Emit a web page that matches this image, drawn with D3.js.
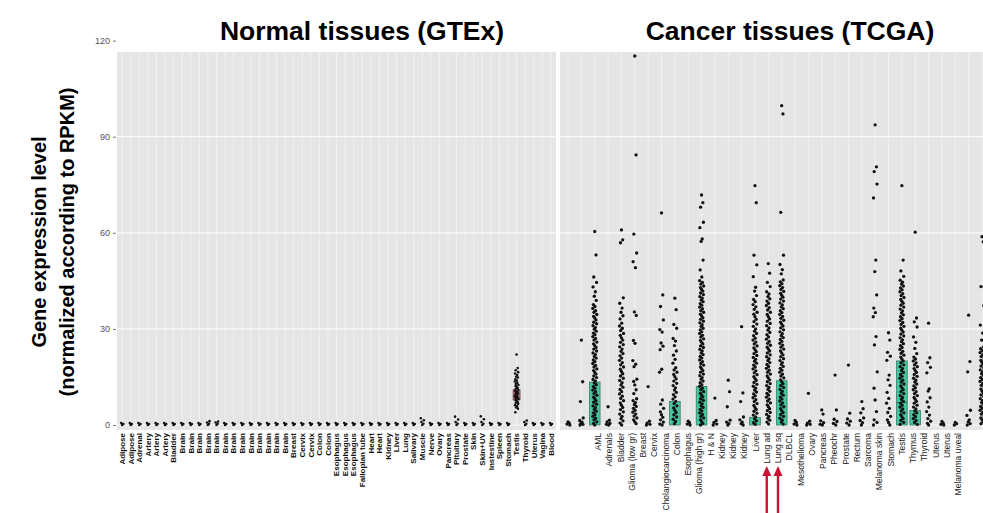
<!DOCTYPE html>
<html>
<head>
<meta charset="utf-8">
<script src="https://cdn.jsdelivr.net/npm/d3@7"></script>
<style>
  body { margin: 0; background: #fff; }
  svg { display: block; font-family: "Liberation Sans", Arial, sans-serif; }
</style>
</head>
<body>
<svg id="chart" width="983" height="513"></svg>
<script>
// ---- data ----
const normalTissues = ["Adipose","Adipose","Adrenal","Artery","Artery","Artery","Bladder",
  "Brain","Brain","Brain","Brain","Brain","Brain","Brain","Brain","Brain","Brain","Brain","Brain","Brain",
  "Breast","Cervix","Cervix","Colon","Colon","Esophagus","Esophagus","Esophagus","Fallopian tube",
  "Heart","Heart","Kidney","Liver","Lung","Salivary","Muscle","Nerve","Ovary","Pancreas","Pituitary",
  "Prostate","Skin","Skin+UV","Instestine","Spleen","Stomach","Testis","Thyroid","Uterus","Vagina","Blood"]

const nz = [0, 0.3, 0.6]
const normalValues = normalTissues.map(() => nz)
normalValues[10] = [0, 0.4, 0.8, 1.2]
normalValues[11] = [0, 0.4, 0.8, 1.1]
normalValues[35] = [0, 0.4, 0.9, 1.5, 2.1]
normalValues[39] = [0, 0.4, 0.9, 1.7, 2.6]
normalValues[42] = [0, 0.4, 0.9, 1.8, 2.7]
normalValues[47] = [0, 0.4, 0.9, 1.4]
normalValues[46] = [22, 17.8, 17.1, 16.5, 16.1, 15.6, 15.1, 14.8, 14.3, 13.9, 13.6, 13.2, 12.9, 12.5,
  12.2, 11.9, 11.5, 11.2, 10.9, 10.6, 10.3, 10.1, 9.8, 9.5, 9.2, 8.9, 8.7, 8.4, 8.1, 7.8, 7.5, 7.2,
  6.9, 6.6, 6.2, 5.9, 5.5, 5.1, 4.0]
const normalBox = { index: 46, q1: 7.8, median: 9.4, q3: 11 }

const cancerLabels = ["AML","Adrenals","Bladder","Glioma (low gr)","Breast","Cervix","Cholangiocarcinoma",
  "Colon","Esophagus","Glioma (high gr)","H & N","Kidney","Kidney","Kidney","Liver","Lung ad","Lung sq",
  "DLBCL","Mesothelioma","Ovary","Pancreas","Pheochr","Prostate","Rectum","Sarcoma","Melanoma skin",
  "Stomach","Testis","Thymus","Thyroid","Uterus","Uterus","Melanoma uveal"]

const cancerValues = [
  [1.0, 0.6, 0.3, 0],
  [26.5, 13.5, 7.3, 2.2, 1.4, 0.9, 0.5, 0.2, 0],
  [60.4, 53.1, 46.2, 44.5, 43.1, 41.6, 40.2, 38.9, 37.6, 37.0, 36.4, 35.7, 35.2, 34.5, 33.9, 33.4,
   32.8, 32.1, 31.6, 31.0, 30.4, 29.9, 29.3, 28.7, 28.2, 27.6, 27.0, 26.5, 25.9, 25.3, 24.8, 24.2,
   23.7, 23.1, 22.5, 22.0, 21.4, 20.9, 20.3, 19.8, 19.2, 18.6, 18.1, 17.5, 17.0, 16.4, 15.9, 15.3,
   14.8, 14.2, 13.7, 13.1, 12.6, 12.0, 11.5, 10.9, 10.4, 9.8, 9.3, 8.7, 8.2, 7.6, 7.1, 6.5, 6.0, 5.4,
   4.9, 4.3, 3.8, 3.2, 2.7, 2.1, 1.6, 1.0, 0.5, 0],
  [5.7, 1.5, 1, 0.5, 0.2, 0],
  [60.9, 57.8, 56.9, 39.7, 38, 36.5, 35.2, 34.1, 33.1, 31.8, 30.9, 30.2, 29.5, 28.6, 28, 27.2, 26.5,
   25.8, 25.1, 24.4, 23.7, 23, 22.3, 21.6, 20.9, 20.2, 19.5, 18.8, 18.1, 17.4, 16.7, 16, 15.3, 14.6,
   13.9, 13.2, 12.5, 11.8, 11.1, 10.4, 9.7, 9, 8.3, 7.6, 6.9, 6.2, 5.5, 4.8, 4.1, 3.4, 2.7, 2, 1.3,
   0.6, 0],
  [115.2, 84.3, 59.6, 53.7, 51, 49.1, 35.3, 34.2, 26.4, 25.5, 20.1, 19, 18.2, 14.3, 13.6, 12.5, 11,
   9.8, 8.2, 7.6, 7.0, 6.4, 5.8, 5.2, 4.6, 4.0, 3.4, 2.8, 2.2, 1.6, 1.0, 0.4],
  [12, 1.2, 0.6, 0.2, 0],
  [66.2, 40.6, 37, 32.8, 29.8, 29, 25.6, 24.6, 23.5, 17.4, 16.5, 7.8, 6.5, 5.2, 4.1, 3.2, 2.4, 1.6,
   0.9, 0.3, 0],
  [39.6, 36, 31.4, 30.2, 27, 26.2, 24.8, 23.1, 21.8, 20.5, 19.3, 17.9, 17.2, 16.5, 15.8, 15.1, 14.4,
   13.7, 13, 12.3, 11.6, 10.9, 10.2, 9.5, 8.8, 8.1, 7.4, 6.7, 6, 5.3, 4.6, 3.9, 3.2, 2.5, 1.8, 1.1, 0.4],
  [1.2, 0.7, 0.3, 0],
  [71.8, 69.4, 68, 63.3, 61.6, 58.1, 57.3, 51.5, 48.4, 46.2, 45.1, 44.5, 44.0, 43.4, 42.9, 42.3, 41.8,
   41.2, 40.7, 40.1, 39.6, 39.0, 38.5, 37.9, 37.4, 36.8, 36.3, 35.7, 35.2, 34.6, 34.1, 33.5, 33.0,
   32.4, 31.9, 31.3, 30.8, 30.2, 29.7, 29.1, 28.6, 28.0, 27.5, 26.9, 26.4, 25.8, 25.3, 24.7, 24.2,
   23.6, 23.1, 22.5, 22.0, 21.4, 20.9, 20.3, 19.8, 19.2, 18.7, 18.1, 17.6, 17.0, 16.5, 15.9, 15.4,
   14.8, 14.3, 13.7, 13.2, 12.6, 12.1, 11.5, 11.0, 10.4, 9.9, 9.3, 8.8, 8.2, 7.7, 7.1, 6.6, 6.0, 5.5,
   4.9, 4.4, 3.8, 3.3, 2.7, 2.2, 1.6, 1.1, 0.5, 0],
  [8.4, 1.4, 0.8, 0.3, 0],
  [14, 10.4, 5.7, 1.5, 0.9, 0.4, 0],
  [30.7, 10, 7.3, 2.5, 1.6, 0.9, 0.4, 0],
  [74.7, 69.4, 53, 50, 46.3, 43, 41.8, 40.4, 39.2, 38.5, 37.6, 36.9, 36.1, 35.2, 34.6, 33.8, 33.0,
   32.3, 31.5, 30.8, 30.0, 29.3, 28.6, 27.9, 27.1, 26.5, 25.9, 25.3, 24.7, 24.1, 23.5, 22.9, 22.3,
   21.7, 21.1, 20.5, 19.9, 19.3, 18.7, 18.1, 17.5, 16.9, 16.3, 15.7, 15.1, 14.5, 13.9, 13.3, 12.7,
   12.1, 11.5, 10.9, 10.3, 9.7, 9.1, 8.5, 7.9, 7.3, 6.7, 6.1, 5.5, 4.9, 4.3, 3.7, 3.1, 2.5, 1.9, 1.3,
   0.7, 0.2],
  [50.4, 47.4, 44.5, 43.2, 41.6, 40.9, 40.1, 39.4, 38.7, 38.0, 37.3, 36.6, 35.9, 35.2, 34.5, 33.8,
   33.1, 32.4, 31.7, 31.0, 30.3, 29.6, 28.9, 28.2, 27.5, 26.8, 26.1, 25.5, 24.9, 24.3, 23.7, 23.1,
   22.5, 21.9, 21.3, 20.7, 20.1, 19.5, 18.9, 18.3, 17.7, 17.1, 16.5, 15.9, 15.3, 14.7, 14.1, 13.5,
   12.9, 12.3, 11.7, 11.1, 10.5, 9.9, 9.3, 8.7, 8.1, 7.5, 6.9, 6.3, 5.7, 5.1, 4.5, 3.9, 3.3, 2.7, 2.1,
   1.5, 0.9, 0.3],
  [99.7, 97.1, 66.4, 53, 50.1, 48.5, 47.2, 45.3, 44.7, 44.1, 43.5, 42.9, 42.3, 41.7, 41.1, 40.5, 39.9,
   39.3, 38.7, 38.1, 37.5, 36.9, 36.3, 35.7, 35.1, 34.5, 33.9, 33.3, 32.7, 32.1, 31.5, 30.9, 30.3,
   29.7, 29.1, 28.5, 27.9, 27.3, 26.7, 26.1, 25.5, 24.9, 24.3, 23.7, 23.1, 22.5, 21.9, 21.3, 20.7,
   20.1, 19.5, 18.9, 18.3, 17.7, 17.1, 16.5, 15.9, 15.3, 14.7, 14.1, 13.5, 12.9, 12.3, 11.7, 11.1,
   10.5, 9.9, 9.3, 8.7, 8.1, 7.5, 6.9, 6.3, 5.7, 5.1, 4.5, 3.9, 3.3, 2.7, 2.1, 1.5, 0.9, 0.3],
  [1.4, 0.8, 0.3, 0],
  [9.9, 1.2, 0.6, 0.2, 0],
  [4.7, 3.4, 1.3, 0.7, 0.2, 0],
  [15.6, 4.7, 1.8, 1.1, 0.5, 0],
  [18.7, 3.7, 1.9, 1.2, 0.6, 0],
  [7.3, 5.1, 3.8, 2.2, 1.4, 0.7, 0],
  [93.7, 80.6, 79.1, 75.2, 70.9, 51.5, 47.9, 40.6, 36.5, 35.1, 33.8, 27.6, 25, 16.6, 11.5, 7.8, 4.2,
   1.6, 0.8, 0],
  [28.8, 26.5, 22.7, 21.5, 20.2, 15.6, 14.1, 12.4, 10.2, 8.3, 6.8, 5.2, 3.9, 2.7, 1.6, 0.8, 0],
  [74.7, 51.5, 48.1, 46.4, 45.2, 44.6, 44.0, 43.4, 42.8, 42.2, 41.6, 41.0, 40.4, 39.8, 39.2, 38.6,
   38.0, 37.4, 36.8, 36.2, 35.6, 35.0, 34.4, 33.8, 33.2, 32.6, 32.0, 31.4, 30.8, 30.2, 29.6, 29.0,
   28.4, 27.8, 27.2, 26.6, 26.0, 25.4, 24.8, 24.2, 23.6, 23.0, 22.4, 21.8, 21.2, 20.6, 20.0, 19.4,
   18.8, 18.2, 17.6, 17.0, 16.4, 15.8, 15.2, 14.6, 14.0, 13.4, 12.8, 12.2, 11.6, 11.0, 10.4, 9.8, 9.2,
   8.6, 8.0, 7.4, 6.8, 6.2, 5.6, 5.0, 4.4, 3.8, 3.2, 2.6, 2.0, 1.4, 0.8, 0.2],
  [60.2, 33.4, 32.2, 30.6, 27.5, 25.8, 23.9, 22.3, 21.2, 20.6, 20.0, 19.4, 18.8, 18.2, 17.6, 17.0,
   16.4, 15.8, 15.2, 14.6, 14.0, 13.4, 12.8, 12.2, 11.6, 11.0, 10.4, 9.8, 9.2, 8.6, 8.0, 7.4, 6.8, 6.2,
   5.6, 5.0, 4.4, 3.8, 3.2, 2.6, 2.0, 1.4, 0.8, 0.2],
  [31.8, 21, 19.5, 18, 16.3, 11.3, 10.6, 8.5, 7.2, 5.6, 4.2, 3.1, 2, 1.2, 0.5, 0],
  [1.1, 0.6, 0.2, 0],
  [0.8, 0.4, 0],
  [34.3, 19.8, 16.6, 4.6, 3, 1.6, 1, 0.4, 0],
  [58.8, 57.2, 43.2, 37.2, 31.2, 28.7, 26.5, 24.4, 23.8, 23.2, 22.6, 22.0, 21.4, 20.8, 20.2, 19.6,
   19.0, 18.4, 17.8, 17.2, 16.6, 16.0, 15.4, 14.8, 14.2, 13.6, 13.0, 12.4, 11.8, 11.2, 10.6, 10.0,
   9.4, 8.8, 8.2, 7.6, 7.0, 6.4, 5.8, 5.2, 4.6, 4.0, 3.4, 2.8, 2.2, 1.6, 1.0, 0.4]
]

// box heights (green) per cancer column
const cancerBarCols = [2, 8, 10, 14, 16, 25, 26]
const cancerBarValues = [13.4, 7.3, 12, 2.3, 13.8, 20, 4.5]
const testisMedian = { col: 25, value: 7 }

const yTicks = [0, 30, 60, 90, 120]
const arrowLabels = [15, 16]   // Lung ad, Lung sq

// ---- drawing ----
const svg = d3.select("#chart")

const y = d3.scaleLinear().domain([0, 120]).range([425, 40.6])
const panelTop = 52, panelBottom = 430

const xNormal = d3.scalePoint().domain(d3.range(normalTissues.length))
  .range([117, 556]).padding(0.6)
const xCancer = d3.scalePoint().domain(d3.range(cancerValues.length))
  .range([560, 990]).padding(0.6)
const xCancerLabel = d3.scalePoint().domain(d3.range(cancerLabels.length))
  .range([598, 958])

const panels = [
  { x: xNormal, x0: 117, x1: 556 },
  { x: xCancer, x0: 560, x1: 990 }
]

panels.forEach(p => {
  const g = svg.append("g")
  g.append("rect")
    .attr("x", p.x0).attr("y", panelTop)
    .attr("width", p.x1 - p.x0).attr("height", panelBottom - panelTop)
    .attr("fill", "#e5e5e5")
  g.selectAll("line.v")
    .data(p.x.domain())
    .enter().append("line")
    .attr("x1", d => p.x(d)).attr("x2", d => p.x(d))
    .attr("y1", panelTop).attr("y2", panelBottom)
    .attr("stroke", "#f4f4f4").attr("stroke-width", 0.8)
  g.selectAll("line.h")
    .data(yTicks.filter(t => y(t) > panelTop))
    .enter().append("line")
    .attr("x1", p.x0).attr("x2", p.x1)
    .attr("y1", d => y(d)).attr("y2", d => y(d))
    .attr("stroke", "#fafafa").attr("stroke-width", 1.2)
})

// y axis
const yAxis = d3.axisLeft(y).tickValues(yTicks).tickSize(3).tickPadding(3)
const ya = svg.append("g").attr("transform", "translate(116,0)").call(yAxis)
ya.select(".domain").remove()
ya.selectAll("line").attr("stroke", "#777")
ya.selectAll("text").attr("fill", "#555").style("font-size", "9px")
  .style("font-family", "'Liberation Sans', Arial, sans-serif")

// fixed (non random) jitter pattern, cycled by point index
const jitter = [0, 1.6, -1.2, 2.3, -2.1, 0.8, -0.5, 1.9, -1.7, 0.3, -2.4, 1.1, -0.9, 2.6, -1.4]
const jit = i => jitter[i % jitter.length]

// normal tissues: testis box
svg.append("rect")
  .attr("x", xNormal(normalBox.index) - 3.5).attr("width", 7)
  .attr("y", y(normalBox.q3)).attr("height", y(normalBox.q1) - y(normalBox.q3))
  .attr("fill", "#b5475f").attr("fill-opacity", 0.75)
  .attr("stroke", "#6e1f2c").attr("stroke-width", 0.6)

normalValues.forEach((vals, c) => {
  svg.append("g").selectAll("circle")
    .data(vals)
    .enter().append("circle")
    .attr("cx", (d, i) => xNormal(c) + jit(i) * 0.7)
    .attr("cy", d => y(d))
    .attr("r", 1.3)
    .attr("fill", "#111")
})

// cancer tissues: green boxes then points
const bw = xCancer.step() * 0.8
svg.append("g").selectAll("rect")
  .data(cancerBarCols)
  .enter().append("rect")
  .attr("x", d => xCancer(d) - bw / 2).attr("width", bw)
  .attr("y", (d, i) => y(cancerBarValues[i]))
  .attr("height", (d, i) => y(0) - y(cancerBarValues[i]))
  .attr("fill", "#43c9a0")
  .attr("stroke", "#2b6f5c").attr("stroke-width", 0.7)

svg.append("line")
  .attr("x1", xCancer(testisMedian.col) - bw / 2).attr("x2", xCancer(testisMedian.col) + bw / 2)
  .attr("y1", y(testisMedian.value)).attr("y2", y(testisMedian.value))
  .attr("stroke", "#2b6f5c").attr("stroke-width", 1)

cancerValues.forEach((vals, c) => {
  svg.append("g").selectAll("circle")
    .data(vals)
    .enter().append("circle")
    .attr("cx", (d, i) => xCancer(c) + jit(i) * 0.8)
    .attr("cy", d => y(d))
    .attr("r", 1.65)
    .attr("fill", "#111")
})

// x labels
svg.append("g").selectAll("text")
  .data(normalTissues)
  .enter().append("text")
  .attr("transform", (d, i) => `translate(${xNormal(i) + 2.8},433) rotate(-90)`)
  .attr("text-anchor", "end")
  .style("font-size", "8px").style("font-weight", "bold")
  .attr("fill", "#111")
  .text(d => d)

svg.append("g").selectAll("text")
  .data(cancerLabels)
  .enter().append("text")
  .attr("transform", (d, i) => `translate(${xCancerLabel(i) + 3},433) rotate(-90)`)
  .attr("text-anchor", "end")
  .style("font-size", "8.5px")
  .attr("fill", "#222")
  .text(d => d)

// red arrows under Lung ad / Lung sq
const arrows = svg.append("g")
arrowLabels.forEach(i => {
  const ax = xCancerLabel(i)
  arrows.append("line")
    .attr("x1", ax).attr("x2", ax).attr("y1", 513).attr("y2", 474)
    .attr("stroke", "#cc1133").attr("stroke-width", 2.4)
  arrows.append("path")
    .attr("d", `M${ax - 4.5},476 L${ax},466 L${ax + 4.5},476 Z`)
    .attr("fill", "#cc1133")
})

// titles
svg.append("text")
  .attr("x", 362).attr("y", 40).attr("text-anchor", "middle")
  .style("font-size", "26.5px").style("font-weight", "bold")
  .text("Normal tissues (GTEx)")
svg.append("text")
  .attr("x", 790).attr("y", 40).attr("text-anchor", "middle")
  .style("font-size", "26.5px").style("font-weight", "bold")
  .text("Cancer tissues (TCGA)")

// y title, two lines
const yt = svg.append("text")
  .attr("transform", "translate(46,242) rotate(-90)")
  .attr("text-anchor", "middle")
  .style("font-size", "20px").style("font-weight", "bold")
yt.append("tspan").attr("x", 0).attr("y", 0).text("Gene expression level")
yt.append("tspan").attr("x", 0).attr("y", 28).text("(normalized according to RPKM)")
</script>
</body>
</html>
